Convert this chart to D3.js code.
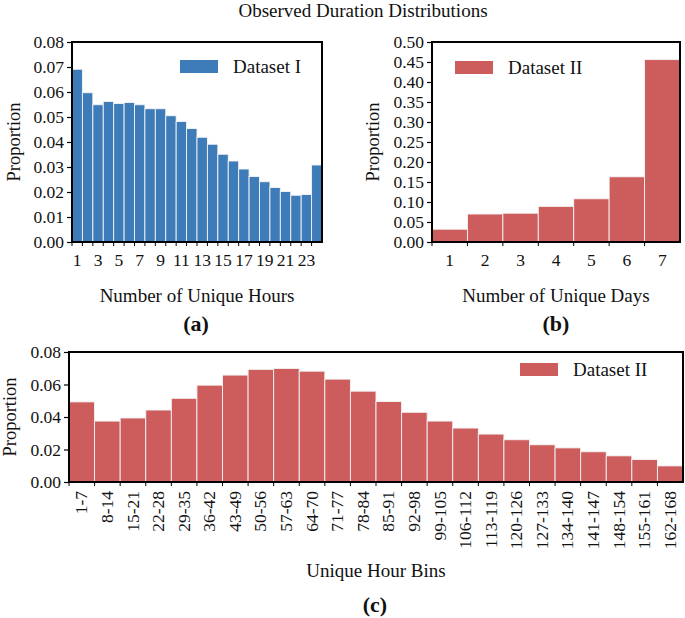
<!DOCTYPE html>
<html>
<head>
<meta charset="utf-8">
<script src="https://cdn.jsdelivr.net/npm/d3@7"></script>
<style>
  body { margin: 0; background: #fff; }
  svg text { font-family: "Liberation Serif", "Times New Roman", serif; fill: #111; }
</style>
</head>
<body>
<svg id="chart" width="685" height="618"></svg>
<script>
// panel (a): number of unique hours, Dataset I
let hours = d3.range(1, 25);
let hourValues = [0.0691, 0.0597, 0.0549, 0.0562, 0.0554, 0.0558, 0.0549, 0.0533, 0.0533, 0.0505,
    0.0482, 0.0454, 0.0419, 0.0391, 0.0351, 0.0324, 0.0292, 0.0262, 0.0241, 0.0218,
    0.0202, 0.0187, 0.0190, 0.0308];
let hourTicks = [1, 3, 5, 7, 9, 11, 13, 15, 17, 19, 21, 23];

// panel (b): number of unique days, Dataset II
let days = [1, 2, 3, 4, 5, 6, 7];
let dayValues = [0.032, 0.070, 0.072, 0.089, 0.108, 0.163, 0.456];

// panel (c): unique hour bins, Dataset II
let bins = ["1-7", "8-14", "15-21", "22-28", "29-35", "36-42", "43-49", "50-56", "57-63", "64-70",
    "71-77", "78-84", "85-91", "92-98", "99-105", "106-112", "113-119", "120-126", "127-133",
    "134-140", "141-147", "148-154", "155-161", "162-168"];
let binValues = [0.0493, 0.0375, 0.0394, 0.0443, 0.0515, 0.0596, 0.0658, 0.0693, 0.0699, 0.0682,
    0.0633, 0.0559, 0.0495, 0.0429, 0.0375, 0.0332, 0.0295, 0.0260, 0.0229, 0.0210,
    0.0186, 0.0161, 0.0138, 0.0099];

let blue = '#3d7cb8';
let red = '#cd5c5c';

let svg = d3.select('#chart');

svg.append('text')
    .attr('x', 363)
    .attr('y', 17)
    .style('text-anchor', 'middle')
    .style('font-size', '19px')
    .text('Observed Duration Distributions');

function drawPanel(o) {
    let g = svg.append('g');

    let xScale = d3.scaleBand()
        .domain(o.cats)
        .range([o.x0, o.x1])
        .padding(0);

    let yScale = d3.scaleLinear()
        .domain([0, o.yMax])
        .range([o.y1, o.y0]);

    // bars
    g.selectAll('rect.bar')
        .data(o.values)
        .enter()
        .append('rect')
        .classed('bar', true)
        .attr('x', (d, i) => xScale(o.cats[i]))
        .attr('y', d => yScale(d))
        .attr('width', xScale.bandwidth())
        .attr('height', d => o.y1 - yScale(d))
        .attr('fill', o.color)
        .attr('stroke', '#f4f4f4')
        .attr('stroke-width', 0.9);

    // y-axis
    let yAxis = d3.axisLeft(yScale)
        .tickValues(d3.range(0, o.yMax + o.yStep / 2, o.yStep))
        .tickFormat(d3.format('.2f'))
        .tickSize(5)
        .tickPadding(3);

    let ya = g.append('g')
        .attr('transform', 'translate(' + o.x0 + ',0)')
        .call(yAxis);
    ya.select('.domain').remove();
    ya.selectAll('line').attr('stroke', '#000').attr('stroke-width', 1.2);
    ya.selectAll('text').style('font-size', '17.5px');

    // x tick marks at bar edges
    g.selectAll('line.edge')
        .data(o.cats)
        .enter()
        .append('line')
        .classed('edge', true)
        .attr('x1', d => xScale(d))
        .attr('x2', d => xScale(d))
        .attr('y1', o.y1)
        .attr('y2', o.y1 + 4)
        .attr('stroke', '#000')
        .attr('stroke-width', 1);

    // x tick labels at bar centres
    let xAxis = d3.axisBottom(xScale)
        .tickValues(o.tickCats || o.cats)
        .tickSize(0)
        .tickPadding(o.tickPad);

    let xa = g.append('g')
        .attr('transform', 'translate(0,' + o.y1 + ')')
        .call(xAxis);
    xa.select('.domain').remove();
    xa.selectAll('text').style('font-size', '17.5px');
    if (o.rotate) {
        xa.selectAll('text')
            .attr('transform', 'rotate(-90)')
            .attr('dy', '0.32em')
            .attr('x', -o.tickPad)
            .attr('y', 0)
            .style('text-anchor', 'end');
    }

    // frame
    g.append('rect')
        .attr('x', o.x0)
        .attr('y', o.y0)
        .attr('width', o.x1 - o.x0)
        .attr('height', o.y1 - o.y0)
        .attr('fill', 'none')
        .attr('stroke', '#000')
        .attr('stroke-width', 2);

    // y-axis title
    g.append('text')
        .attr('transform', 'rotate(-90)')
        .attr('x', -(o.y0 + o.y1) / 2)
        .attr('y', o.yTitleX)
        .style('text-anchor', 'middle')
        .style('font-size', '18.5px')
        .text('Proportion');

    // x-axis title
    g.append('text')
        .attr('x', (o.x0 + o.x1) / 2)
        .attr('y', o.xTitleY)
        .style('text-anchor', 'middle')
        .style('font-size', '19px')
        .text(o.xTitle);

    // panel letter
    g.append('text')
        .attr('x', o.letterX)
        .attr('y', o.letterY)
        .style('text-anchor', 'middle')
        .style('font-size', '22px')
        .style('font-weight', 'bold')
        .text(o.letter);

    // legend
    g.append('rect')
        .attr('x', o.legX)
        .attr('y', o.legY)
        .attr('width', 38)
        .attr('height', 13)
        .attr('fill', o.color);
    g.append('text')
        .attr('x', o.legX + 53)
        .attr('y', o.legY + 13)
        .style('font-size', '19px')
        .text(o.legend);
}

drawPanel({
    cats: hours, values: hourValues, tickCats: hourTicks, color: blue,
    x0: 72, x1: 322, y0: 42, y1: 242, yMax: 0.08, yStep: 0.01, tickPad: 12,
    yTitleX: 20, xTitle: 'Number of Unique Hours', xTitleY: 302,
    letter: '(a)', letterX: 196, letterY: 331,
    legend: 'Dataset I', legX: 180, legY: 60
});

drawPanel({
    cats: days, values: dayValues, color: red,
    x0: 432, x1: 680, y0: 42, y1: 242, yMax: 0.5, yStep: 0.05, tickPad: 12,
    yTitleX: 379, xTitle: 'Number of Unique Days', xTitleY: 302,
    letter: '(b)', letterX: 556, letterY: 331,
    legend: 'Dataset II', legX: 455, legY: 61
});

drawPanel({
    cats: bins, values: binValues, color: red,
    x0: 69, x1: 683, y0: 352, y1: 482, yMax: 0.08, yStep: 0.02, tickPad: 9, rotate: true,
    yTitleX: 16, xTitle: 'Unique Hour Bins', xTitleY: 577,
    letter: '(c)', letterX: 375, letterY: 612,
    legend: 'Dataset II', legX: 520, legY: 363
});
</script>
</body>
</html>
